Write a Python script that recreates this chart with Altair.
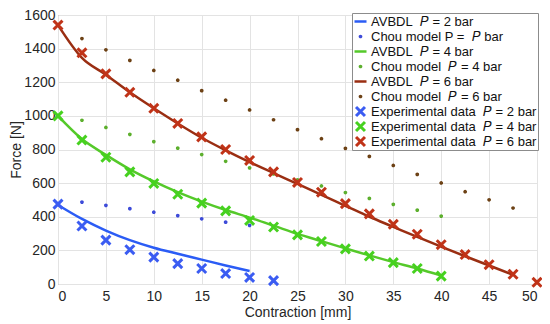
import altair as alt
import pandas as pd

# ---------------- data ----------------
x_exp6 = [0, 2.5, 5, 7.5, 10, 12.5, 15, 17.5, 20, 22.5, 25, 27.5, 30, 32.5, 35, 37.5, 40, 42.5, 45, 47.5, 50]
exp6 = [1540, 1375, 1250, 1140, 1045, 955, 875, 800, 735, 667, 604, 546, 478, 417, 355, 296, 234, 175, 115, 58, 10]
x_exp4 = [0, 2.5, 5, 7.5, 10, 12.5, 15, 17.5, 20, 22.5, 25, 27.5, 30, 32.5, 35, 37.5, 40]
exp4 = [1000, 856, 754, 667, 598, 534, 481, 435, 378, 339, 292, 253, 209, 166, 127, 92, 47]
x_exp2 = [0, 2.5, 5, 7.5, 10, 12.5, 15, 17.5, 20, 22.5]
exp2 = [475, 345, 261, 204, 160, 121, 92, 62, 39, 20]

x_chou2 = [2.5, 5, 7.5, 10, 12.5, 15, 17.5, 20]
chou2 = [487, 468, 448, 427, 407, 388, 368, 349]
x_chou4 = [2.5, 5, 7.5, 10, 12.5, 15, 17.5, 20, 22.5, 25, 27.5, 30, 32.5, 35, 37.5, 40]
chou4 = [974, 931, 890, 847, 808, 770, 730, 691, 655, 620, 583, 544, 509, 474, 439, 404]
x_chou6 = [2.5, 5, 7.5, 10, 12.5, 15, 17.5, 20, 22.5, 25, 27.5, 30, 32.5, 35, 37.5, 40, 42.5, 45, 47.5]
chou6 = [1460, 1393, 1330, 1270, 1212, 1150, 1093, 1035, 977, 918, 864, 807, 759, 705, 652, 601, 549, 501, 452]

x_line2 = [0, 2.5, 5, 7.5, 10, 12.5, 15, 17.5, 20]
line2 = [470, 387, 318, 261, 216, 180, 145, 110, 77]
x_line4 = [0, 2.5, 5, 7.5, 10, 12.5, 15, 17.5, 20, 22.5, 25, 27.5, 30, 32.5, 35, 37.5, 40]
line4 = [1000, 862, 768, 682, 610, 546, 490, 440, 395, 347, 298, 255, 212, 170, 130, 92, 50]
x_line6 = [0, 2.5, 5, 7.5, 10, 12.5, 15, 17.5, 20, 22.5, 25, 27.5, 30, 32.5, 35, 37.5, 40, 42.5, 45, 47.5]
line6 = [1540, 1345, 1245, 1140, 1045, 955, 870, 795, 725, 660, 595, 530, 465, 400, 340, 280, 222, 165, 110, 55]

NB = "\u00a0"
P = "\U0001D443"
k_l2 = f"AVBDL{NB}{NB}{P} = 2 bar"
k_c2 = f"Chou model P ={NB}{NB}{P} bar"
k_l4 = f"AVBDL{NB}{NB}{P} = 4 bar"
k_c4 = f"Chou model{NB}{NB}{P} = 4 bar"
k_l6 = f"AVBDL{NB}{NB}{P} = 6 bar"
k_c6 = f"Chou model{NB}{NB}{P} = 6 bar"
k_e2 = f"Experimental data{NB}{NB}{P} = 2 bar"
k_e4 = f"Experimental data{NB}{NB}{P} = 4 bar"
k_e6 = f"Experimental data{NB}{NB}{P} = 6 bar"

keys = [k_l2, k_c2, k_l4, k_c4, k_l6, k_c6, k_e2, k_e4, k_e6]
colors = ["#2b5cf5", "#3a48d8", "#55c92a", "#5aae2a", "#9a2e12", "#6b3f12", "#3b5cf2", "#46d11f", "#c03318"]
XPATH = "M-1,-1L1,1M1,-1L-1,1"
shapes = ["stroke", "circle", "stroke", "circle", "stroke", "circle", XPATH, XPATH, XPATH]
sizes = [144, 3, 144, 3, 144, 3, 80, 80, 80]
widths = [2.5, 2, 2.5, 2, 2.5, 2, 3, 3, 3]

# ---------------- frames ----------------
def frame(xs, ys, key):
    return pd.DataFrame({"x": xs, "y": ys, "key": key})

lines_df = pd.concat([
    frame(x_line2, line2, k_l2),
    frame(x_line4, line4, k_l4),
    frame(x_line6, line6, k_l6),
])
points_df = pd.concat([
    frame(x_chou2, chou2, k_c2),
    frame(x_chou4, chou4, k_c4),
    frame(x_chou6, chou6, k_c6),
    frame(x_exp2, exp2, k_e2),
    frame(x_exp4, exp4, k_e4),
    frame(x_exp6, exp6, k_e6),
])

xenc = alt.X("x:Q", scale=alt.Scale(domain=[0, 50], nice=False),
             axis=alt.Axis(title="Contraction [mm]", values=list(range(0, 51, 5)), format="d"))
yenc = alt.Y("y:Q", scale=alt.Scale(domain=[0, 1600], nice=False),
             axis=alt.Axis(title="Force [N]", values=list(range(0, 1601, 200)), format="d"))

lines = alt.Chart(lines_df).mark_line(strokeWidth=2.5, interpolate="monotone").encode(
    x=xenc, y=yenc,
    stroke=alt.Stroke("key:N", scale=alt.Scale(domain=[k_l2, k_l4, k_l6],
                                               range=[colors[0], colors[2], colors[4]]), legend=None),
    detail="key:N",
)

points = alt.Chart(points_df).mark_point(filled=False, opacity=1).encode(
    x=xenc, y=yenc,
    color=alt.Color("key:N", scale=alt.Scale(domain=keys, range=colors),
                    legend=alt.Legend(title=None, orient="none", legendX=294, legendY=-2,
                                      labelFont="Liberation Sans", labelFontSize=13,
                                      labelColor="#111111", labelLimit=400,
                                      strokeColor="#8c8c8c", fillColor="white",
                                      padding=1, rowPadding=0, clipHeight=15,
                                      labelOffset=3, symbolOffset=0)),
    shape=alt.Shape("key:N", scale=alt.Scale(domain=keys, range=shapes)),
    size=alt.Size("key:N", scale=alt.Scale(type="ordinal", domain=keys, range=sizes)),
    strokeWidth=alt.StrokeWidth("key:N", scale=alt.Scale(type="ordinal", domain=keys, range=widths)),
)

chart = alt.layer(lines, points).properties(
    width=479, height=269,
    autosize=alt.AutoSizeParams(type="none"),
    padding={"left": 50, "top": 7, "right": 5, "bottom": 36},
).configure_view(
    stroke="#8a8a8a", strokeWidth=1
).configure_axis(
    labelFont="Liberation Sans", titleFont="Liberation Sans",
    labelFontSize=14, titleFontSize=14, titleFontWeight="normal",
    labelColor="#262626", titleColor="#262626",
    grid=True, gridColor="#e3e3e3", gridWidth=1,
    domain=False, ticks=False,
).configure_axisX(
    labelPadding=5, titlePadding=2
).configure_axisY(
    labelPadding=3, titlePadding=0
)

chart.save("out.html", embed_options={"renderer": "svg", "actions": False})
